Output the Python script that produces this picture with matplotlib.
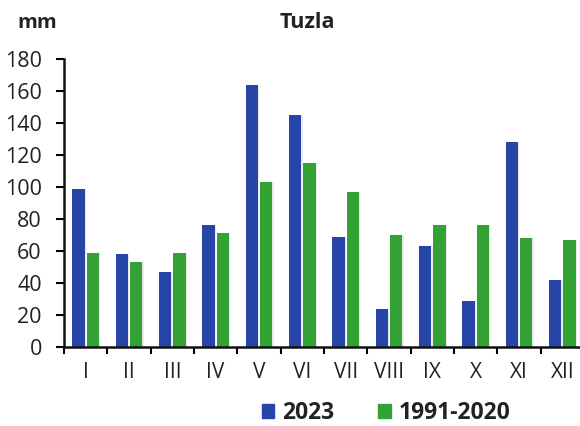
import matplotlib
matplotlib.use("Agg")
import matplotlib.pyplot as plt
import numpy as np
from matplotlib.patches import Patch

months = ["I", "II", "III", "IV", "V", "VI", "VII", "VIII", "IX", "X", "XI", "XII"]
y2023 = [99, 58, 47, 76, 164, 145, 69, 24, 63, 29, 128, 42]
y_norm = [59, 53, 59, 71, 103, 115, 97, 70, 76, 76, 68, 67]
yticks = [0, 20, 40, 60, 80, 100, 120, 140, 160, 180]

plt.rcParams['font.family'] = ['Open Sans', 'DejaVu Sans']

fig = plt.figure(figsize=(5.8, 4.26), dpi=100)
ax = fig.add_axes([64/580, 1 - 347/426, (584 - 64)/580, (347 - 59)/426])

blue = "#2744a8"
green = "#33a235"
x = np.arange(len(months))
w = 0.28
off = 0.165
# subtle shadows
ax.bar(x - off + 0.03, y2023, w, color="#000000", alpha=0.08, zorder=1)
ax.bar(x + off + 0.03, y_norm, w, color="#000000", alpha=0.08, zorder=1)
ax.bar(x - off, y2023, w, color=blue, zorder=2)
ax.bar(x + off, y_norm, w, color=green, zorder=2)

ax.set_xlim(-0.5, len(months) - 0.5)
ax.set_ylim(0, 180)
ax.set_yticks(yticks)
ax.set_yticklabels([str(t) for t in yticks], fontsize=15.5, color="#222222")
ax.set_xticks(x)
ax.set_xticklabels(months, fontsize=15, color="#222222")
ax.set_xticks(np.arange(len(months) + 1) - 0.5, minor=True)
ax.tick_params(axis='x', which='major', length=0, pad=11)
ax.tick_params(axis='x', which='minor', length=5, width=1.5, direction='out')
ax.tick_params(axis='y', which='major', length=6, width=1.5, pad=10)
for s in ['top', 'right']:
    ax.spines[s].set_visible(False)
for s in ['left', 'bottom']:
    ax.spines[s].set_linewidth(1.8)
    ax.spines[s].set_color("#111111")

fig.text(307/580, 1 - 23/426, "Tuzla", ha='center', va='center', fontsize=15.5, fontweight='bold', color="#222222")
fig.text(17/580, 1 - 23/426, "mm", ha='left', va='center', fontsize=14.5, fontweight='bold', color="#222222")

handles = [Patch(color=blue, label="2023"), Patch(color=green, label="1991-2020")]
leg = fig.legend(handles=handles, loc='center', bbox_to_anchor=(386/580, 1 - 413/426), ncol=2,
                 frameon=False, prop={'weight': 'bold', 'size': 16.5},
                 handlelength=0.55, handleheight=0.55, handletextpad=0.35, columnspacing=1.9,
                 borderpad=0.1)
for t in leg.get_texts():
    t.set_color("#222222")

fig.savefig("out.png", dpi=100)
